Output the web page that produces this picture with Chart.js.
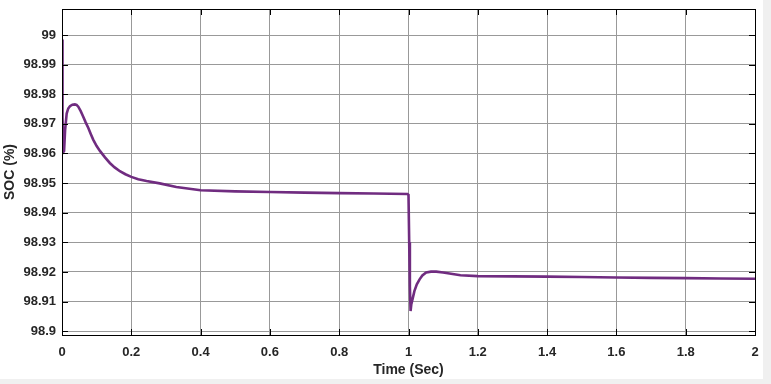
<!DOCTYPE html>
<html>
<head>
<meta charset="utf-8">
<script src="https://cdn.jsdelivr.net/npm/chart.js@4"></script>
<style>
  html, body { margin: 0; padding: 0; background: #f0f0f0; }
  #wrap { position: absolute; left: 0; top: 0; width: 763px; height: 379px; background: #ffffff; }
</style>
</head>
<body>
<div id="wrap"><canvas id="soc-chart" width="763" height="379"></canvas></div>
<script>
// time (s) and state of charge (%)
const time = [0, 0.001, 0.002, 0.004, 0.006, 0.009, 0.0135, 0.018, 0.023, 0.03, 0.037, 0.042, 0.047, 0.054, 0.061, 0.068, 0.076, 0.083, 0.09, 0.1, 0.11, 0.124, 0.138, 0.152, 0.167, 0.183, 0.2, 0.22, 0.244, 0.282, 0.33, 0.4, 0.5, 0.6, 0.7, 0.8, 0.9, 0.997, 1.0, 1.002, 1.004, 1.006, 1.008, 1.012, 1.017, 1.024, 1.032, 1.04, 1.051, 1.065, 1.08, 1.1, 1.15, 1.2, 1.3, 1.4, 1.5, 1.6, 1.7, 1.8, 1.9, 2.0];
const soc = [98.9985, 98.985, 98.972, 98.9605, 98.9608, 98.968, 98.9735, 98.9752, 98.976, 98.9765, 98.9766, 98.9764, 98.9758, 98.9743, 98.9725, 98.9706, 98.9686, 98.9666, 98.9647, 98.9625, 98.9608, 98.9587, 98.9568, 98.9553, 98.954, 98.953, 98.9521, 98.9513, 98.9507, 98.9499, 98.9487, 98.9476, 98.9472, 98.947, 98.9468, 98.9466, 98.9465, 98.9463, 98.946, 98.93, 98.915, 98.9068, 98.909, 98.911, 98.9135, 98.9158, 98.9175, 98.9188, 98.9198, 98.9201, 98.9201, 98.9198, 98.9189, 98.9186, 98.9185, 98.9184, 98.9183, 98.9181, 98.918, 98.9179, 98.9178, 98.9177];

const xTicks = [0, 0.2, 0.4, 0.6, 0.8, 1, 1.2, 1.4, 1.6, 1.8, 2];
const yTicks = [98.9, 98.91, 98.92, 98.93, 98.94, 98.95, 98.96, 98.97, 98.98, 98.99, 99];

const fontTick = { family: "'Liberation Sans', Arial, sans-serif", size: 13, weight: "bold" };
const fontTitle = { family: "'Liberation Sans', Arial, sans-serif", size: 14, weight: "bold" };

// no extra label overhang padding, layout.padding decides the plot box
function noOverhang(scale) {
    scale.paddingTop = 0;
    scale.paddingBottom = 0;
    scale.paddingLeft = 0;
    scale.paddingRight = 0;
}

// matlab-style inward tick marks on all four sides
const innerTicks = {
    id: "innerTicks",
    afterDraw(chart) {
        const ctx = chart.ctx;
        const a = chart.chartArea;
        const xs = chart.scales.x, ys = chart.scales.y;
        ctx.save();
        ctx.strokeStyle = "#000";
        ctx.lineWidth = 1;
        ctx.beginPath();
        xTicks.forEach((v) => {
            const px = Math.round(xs.getPixelForValue(v)) + 0.5;
            ctx.moveTo(px, a.bottom); ctx.lineTo(px, a.bottom - 6);
            ctx.moveTo(px, a.top); ctx.lineTo(px, a.top + 6);
        });
        yTicks.forEach((v) => {
            const py = Math.round(ys.getPixelForValue(v)) + 0.5;
            ctx.moveTo(a.left, py); ctx.lineTo(a.left + 6, py);
            ctx.moveTo(a.right, py); ctx.lineTo(a.right - 6, py);
        });
        ctx.stroke();
        ctx.strokeRect(a.left + 0.5, a.top + 0.5, a.right - a.left, a.bottom - a.top);
        ctx.restore();
    },
};

const ctx = document.getElementById("soc-chart").getContext("2d");
const socChart = new Chart(ctx, {
    type: "line",
    data: {
        datasets: [
            {
                data: time.map((t, i) => ({ x: t, y: soc[i] })),
                borderColor: "#702c80",
                borderWidth: 2.6,
                pointRadius: 0,
                tension: 0,
            },
        ],
    },
    options: {
        responsive: false,
        animation: false,
        layout: { padding: { top: 9, right: 8, left: 0, bottom: 0 } },
        plugins: { legend: { display: false }, tooltip: { enabled: false } },
        scales: {
            x: {
                type: "linear",
                min: 0,
                max: 2,
                afterBuildTicks: (scale) => { scale.ticks = xTicks.map((v) => ({ value: v })); },
                afterFit: (scale) => { scale.height = 44; noOverhang(scale); },
                ticks: { color: "#262626", font: fontTick, padding: 10, maxRotation: 0, callback: (v) => String(v) },
                grid: { color: "#999999", lineWidth: 1, drawTicks: false },
                border: { color: "#000" },
                title: { display: true, text: "Time (Sec)", color: "#262626", font: fontTitle, padding: { top: 5, bottom: 0 } },
            },
            y: {
                type: "linear",
                min: 98.8987,
                max: 99.0088,
                afterBuildTicks: (scale) => { scale.ticks = yTicks.map((v) => ({ value: v })); },
                afterFit: (scale) => { scale.width = 62; noOverhang(scale); },
                ticks: { color: "#262626", font: fontTick, padding: 6, callback: (v) => String(Number(v.toFixed(2))) },
                grid: { color: "#999999", lineWidth: 1, drawTicks: false },
                border: { color: "#000" },
                title: { display: true, text: "SOC (%)", color: "#262626", font: fontTitle, padding: { top: 2, bottom: 2 } },
            },
        },
    },
    plugins: [innerTicks],
});
</script>
</body>
</html>
